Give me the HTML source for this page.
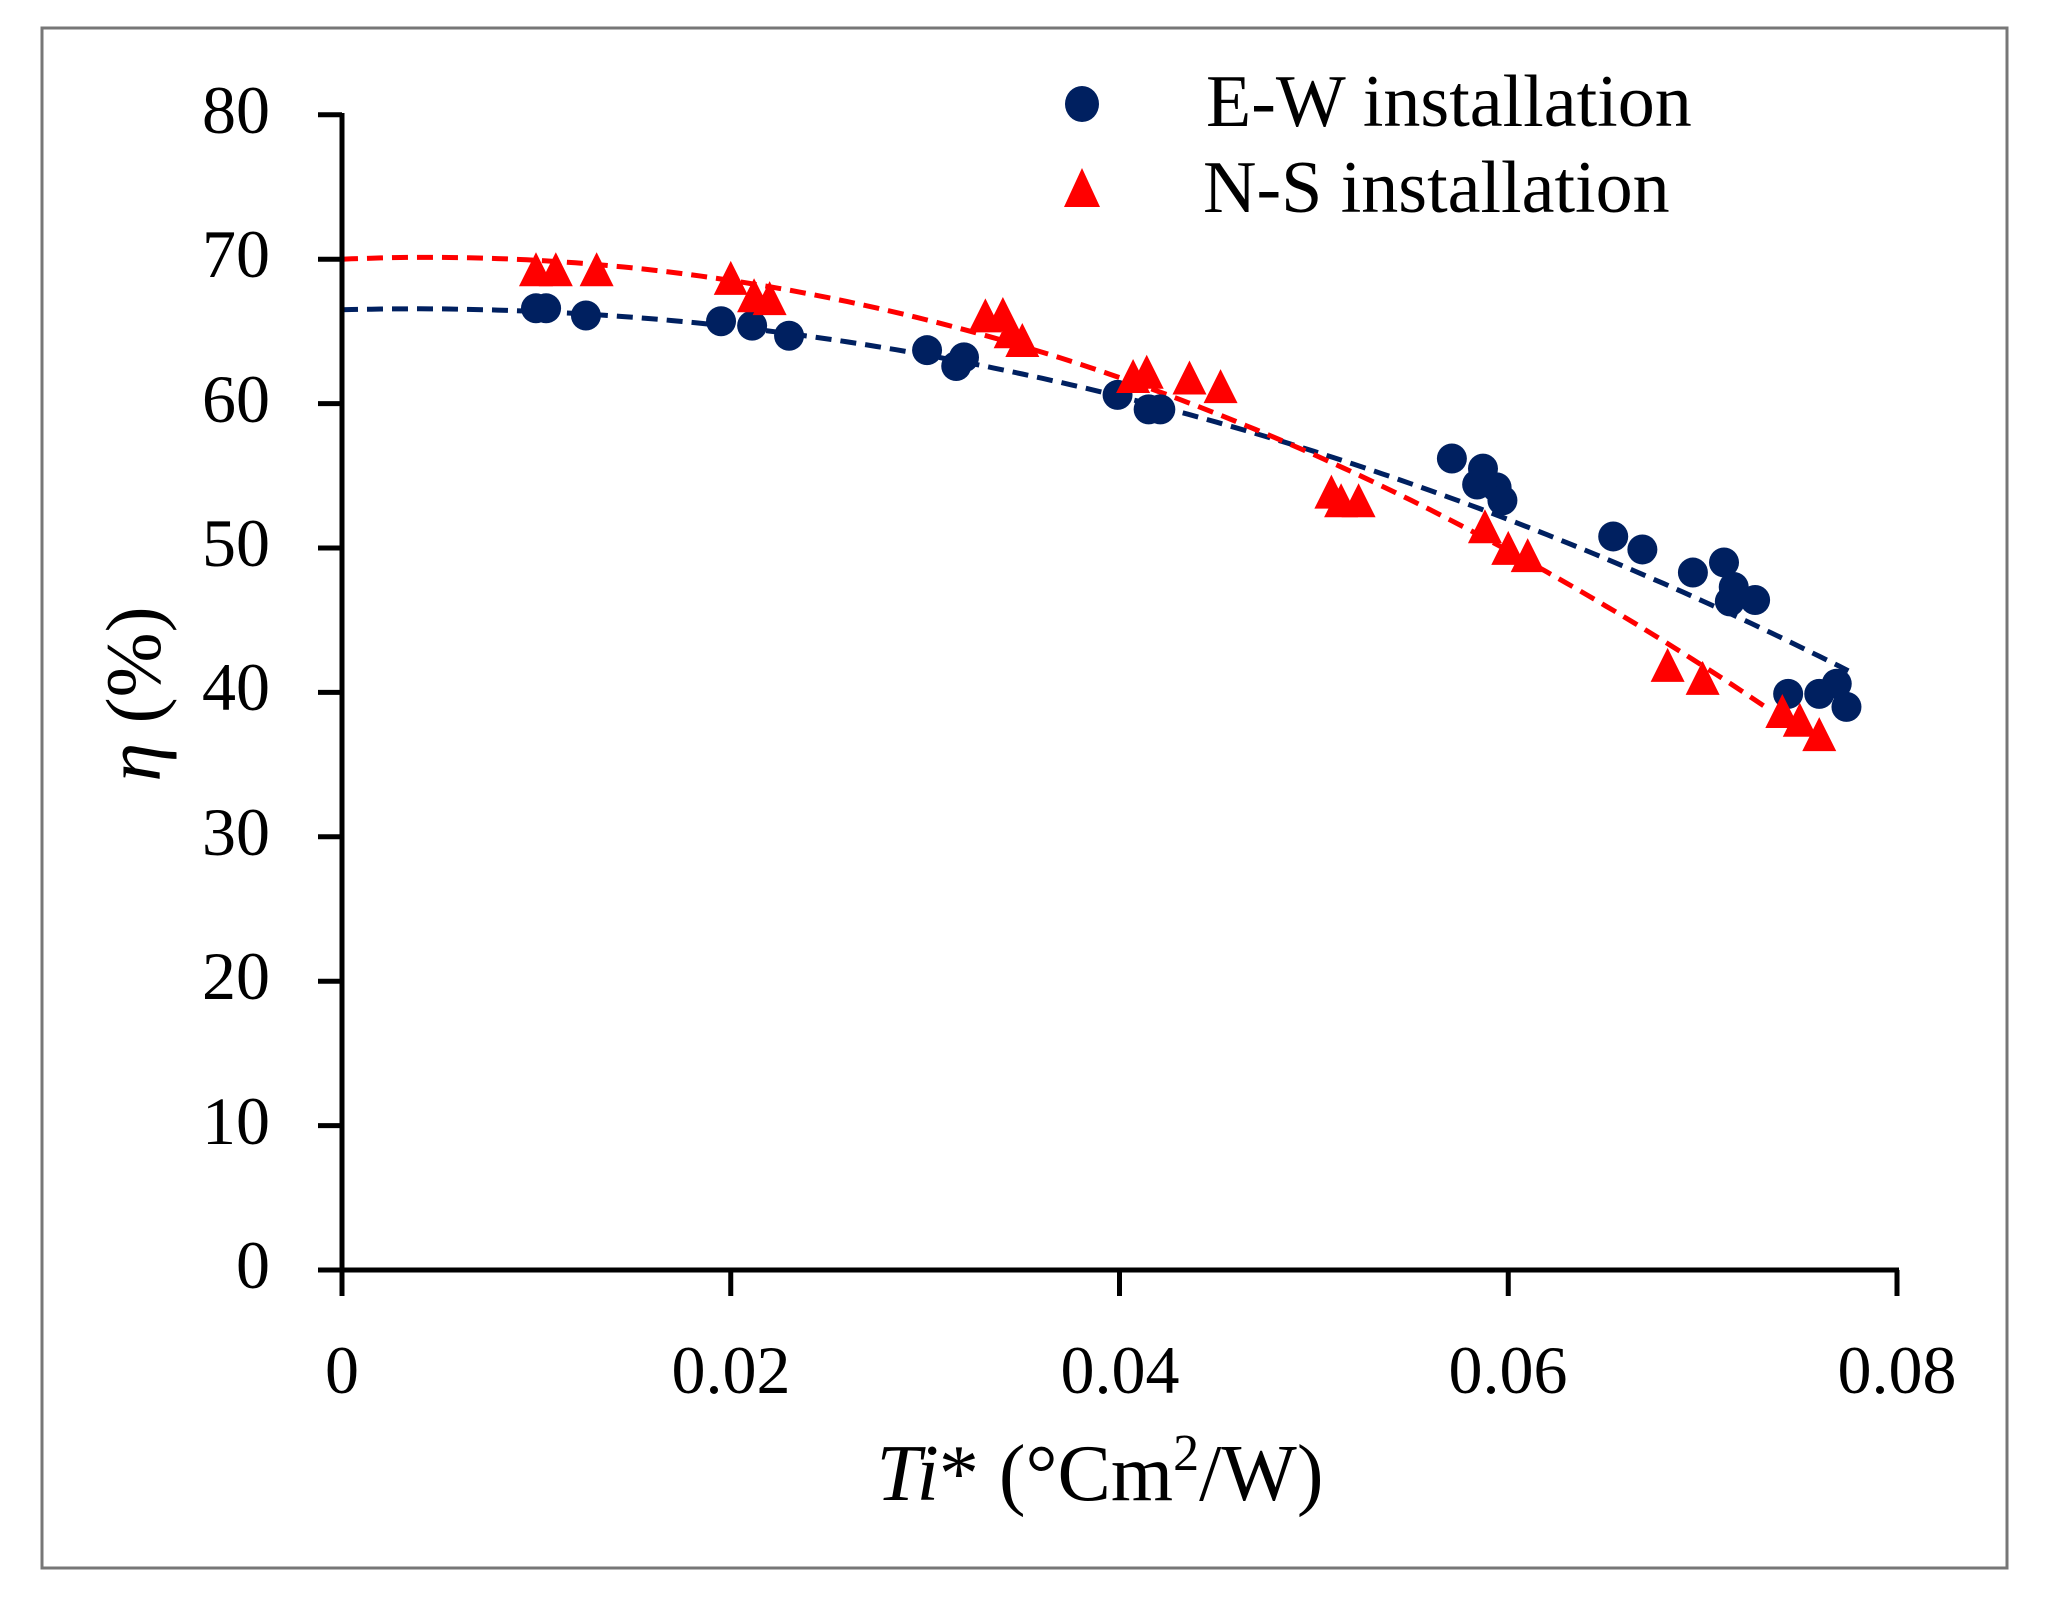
<!DOCTYPE html>
<html><head><meta charset="utf-8"><style>
html,body{margin:0;padding:0;background:#fff}
svg{display:block}
text{font-family:"Liberation Serif",serif;fill:#000}
</style></head><body>
<svg id="s" width="2052" height="1599" viewBox="0 0 2052 1599" xmlns="http://www.w3.org/2000/svg">
<rect x="0" y="0" width="2052" height="1599" fill="#fff"/>
<rect x="42" y="28" width="1965" height="1540" fill="none" stroke="#777" stroke-width="3"/>
<g id="plot"></g>
<g stroke="#000" stroke-width="5" fill="none">
<line x1="342" y1="113" x2="342" y2="1296"/>
<line x1="318" y1="1270" x2="1899" y2="1270"/>
</g>
<g id="ticks" stroke="#000" stroke-width="5"></g>
<g font-size="68" text-anchor="end">
<text x="270" y="133">80</text><text x="270" y="277">70</text><text x="270" y="422">60</text><text x="270" y="566">50</text><text x="270" y="710">40</text><text x="270" y="855">30</text><text x="270" y="999">20</text><text x="270" y="1144">10</text><text x="270" y="1288">0</text>
</g>
<g font-size="68" text-anchor="middle">
<text x="342" y="1393">0</text><text x="731" y="1393">0.02</text><text x="1120" y="1393">0.04</text><text x="1508" y="1393">0.06</text><text x="1897" y="1393">0.08</text>
</g>
<text x="1100" y="1500" font-size="80" text-anchor="middle"><tspan font-style="italic">Ti</tspan>* (°Cm<tspan font-size="52" dy="-30">2</tspan><tspan dy="30">/W)</tspan></text>
<text transform="translate(160,694) rotate(-90)" font-size="78" text-anchor="middle"><tspan font-style="italic">η</tspan> (%)</text>
<ellipse cx="1082" cy="104" rx="17" ry="18" fill="#002060"/>
<polygon points="1082,168 1064,207 1100,207" fill="#ff0000"/>
<text x="1206" y="126" font-size="74">E-W installation</text>
<text x="1203" y="212" font-size="74">N-S installation</text>
</svg>
<script>
var X=function(v){return 342+v*19437.5},Y=function(v){return 1270-v*14.44};
var NS="http://www.w3.org/2000/svg",P=document.getElementById('plot'),T=document.getElementById('ticks');
function el(n,a,p){var e=document.createElementNS(NS,n);for(var k in a)e.setAttribute(k,a[k]);(p||P).appendChild(e);return e;}
for(var i=0;i<=8;i++)el('line',{x1:318,x2:342,y1:Y(i*10),y2:Y(i*10)},T);
for(var i=0;i<=4;i++)el('line',{x1:X(i*0.02),x2:X(i*0.02),y1:1270,y2:1296},T);
function curve(a,b,c,x1,col){var d='';for(var x=0;x<=x1+1e-9;x+=0.0005){d+=(d?'L':'M')+X(x).toFixed(1)+','+Y(a+b*x-c*x*x).toFixed(1);}el('path',{d:d,fill:'none',stroke:col,'stroke-width':5,'stroke-dasharray':'16 9'});}
curve(66.5,34,4602,0.0775,'#002060');
curve(70,58,6573,0.0735,'#ff0000');
var ew=[[0.00998,66.6],[0.0105,66.6],[0.01255,66.1],[0.0195,65.7],[0.0211,65.4],[0.0230,64.7],[0.0301,63.7],[0.0316,62.6],[0.0320,63.2],[0.0399,60.6],[0.0415,59.6],[0.0421,59.6],[0.0571,56.2],[0.0587,55.5],[0.0584,54.4],[0.0594,54.2],[0.0597,53.3],[0.0654,50.8],[0.0669,49.9],[0.0695,48.3],[0.0711,49.0],[0.0714,46.3],[0.0716,47.3],[0.0727,46.4],[0.0744,39.9],[0.0760,39.9],[0.0769,40.6],[0.0774,39.0]];
var ns=[[0.00998,69.1],[0.0110,69.1],[0.0131,69.1],[0.0200,68.5],[0.0212,67.3],[0.0220,67.1],[0.0331,65.9],[0.0340,66.0],[0.0344,64.8],[0.0350,64.2],[0.0407,61.7],[0.0414,62.0],[0.0436,61.6],[0.0452,61.0],[0.0509,53.7],[0.0514,53.1],[0.0523,53.1],[0.0588,51.3],[0.0600,49.8],[0.0610,49.3],[0.0682,41.7],[0.0700,40.8],[0.0741,38.5],[0.0750,37.9],[0.0760,36.9]];
ew.forEach(function(p){el('ellipse',{cx:X(p[0]),cy:Y(p[1]),rx:15,ry:15,fill:'#002060'});});
ns.forEach(function(p){var x=X(p[0]),y=Y(p[1]);el('polygon',{points:x+','+(y-20)+' '+(x-17)+','+(y+14)+' '+(x+17)+','+(y+14),fill:'#ff0000'});});
</script>
</body></html>
